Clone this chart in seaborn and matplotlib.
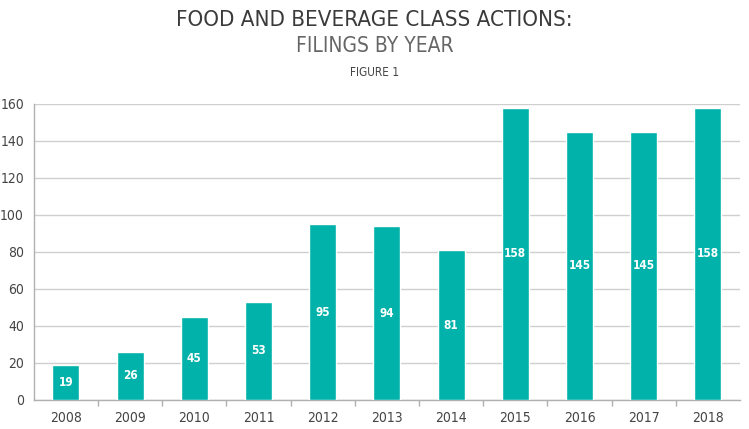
import matplotlib
matplotlib.use("Agg")
import matplotlib.pyplot as plt
import seaborn as sns
import pandas as pd
from matplotlib import font_manager as fm

years = ["2008", "2009", "2010", "2011", "2012", "2013", "2014", "2015", "2016", "2017", "2018"]
filings = [19, 26, 45, 53, 95, 94, 81, 158, 145, 145, 158]
y_ticks = [0, 20, 40, 60, 80, 100, 120, 140, 160]

sns.set_theme(style="white")
plt.rcParams["font.family"] = ["DejaVu Sans"]
plt.rcParams["font.stretch"] = "condensed"

cond = fm.FontProperties(family="DejaVu Sans", stretch="condensed")
cond_path = fm.findfont(cond)
def fp(size, weight="normal"):
    p = fm.FontProperties(fname=cond_path, size=size)
    return p

df = pd.DataFrame({"year": years, "filings": filings})
teal = "#00B2A9"

fig = plt.figure(figsize=(7.49, 4.29), dpi=100)
ax = fig.add_axes([0.045, 0.0676, 0.943, 0.690])
sns.barplot(data=df, x="year", y="filings", color=teal, width=0.42, saturation=1, ax=ax, zorder=3)

ax.set_ylim(0, 160)
ax.set_xlim(-0.5, len(years) - 0.5)
ax.set_yticks(y_ticks)
ax.yaxis.grid(True, color="#cfcfcf", linewidth=1, zorder=0)
ax.set_xlabel("")
ax.set_ylabel("")
for s in ["top", "right"]:
    ax.spines[s].set_visible(False)
for s in ["left", "bottom"]:
    ax.spines[s].set_color("#b0b0b0")
    ax.spines[s].set_linewidth(1)
ax.tick_params(axis="y", length=0, labelcolor="#444444", pad=7)
ax.tick_params(axis="x", length=0, labelcolor="#444444", pad=8)
for lab in ax.get_yticklabels() + ax.get_xticklabels():
    lab.set_fontproperties(fp(10))
ax.set_xticks([i + 0.5 for i in range(len(years) - 1)], minor=True)
ax.tick_params(axis="x", which="minor", length=4, color="#b0b0b0", bottom=True)

bold_path = fm.findfont(fm.FontProperties(family="DejaVu Sans", stretch="condensed", weight="bold"))
for i, v in enumerate(filings):
    ax.text(i, v / 2, str(v), ha="center", va="center", color="white",
            fontproperties=fm.FontProperties(fname=bold_path, size=8.5), zorder=4)

fig.text(0.5, 0.953, "FOOD AND BEVERAGE CLASS ACTIONS:", ha="center", va="center",
         fontproperties=fp(16), color="#3a3a3a")
fig.text(0.5, 0.893, "FILINGS BY YEAR", ha="center", va="center",
         fontproperties=fp(15), color="#666666")
fig.text(0.5, 0.830, "FIGURE 1", ha="center", va="center",
         fontproperties=fp(8.5), color="#444444")

fig.savefig("out.png", dpi=100)
